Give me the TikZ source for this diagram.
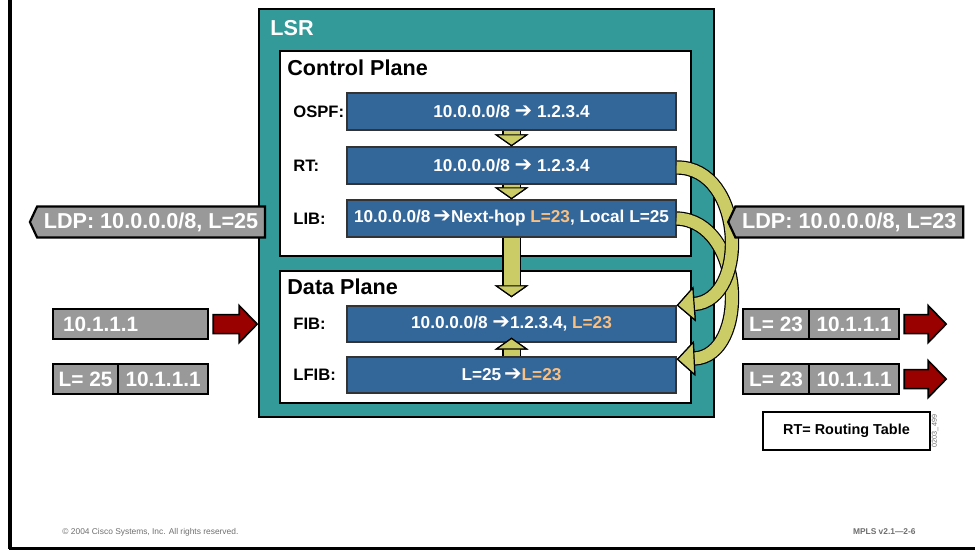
\documentclass[tikz,border=0pt]{standalone}
\usepackage{fontspec}
\setmainfont{Liberation Sans}
\newfontfamily\symfont{DejaVu Sans}
\usepackage{xcolor}
\definecolor{LSRCOLOR}{RGB}{51,153,153}
\definecolor{BARCOLOR}{RGB}{51,102,153}
\definecolor{LINKCOLOR}{RGB}{204,204,102}
\definecolor{PKTCOLOR}{RGB}{153,153,153}
\definecolor{FLOWCOLOR}{RGB}{153,0,0}
\definecolor{LABELCOLOR}{RGB}{250,192,130}
\definecolor{NOTECOLOR}{RGB}{110,110,110}
\newcommand{\fwdarrow}{{\symfont\fontsize{10.5}{10}\selectfont ➔}}
\newcommand{\labeltext}[1]{\textcolor{LABELCOLOR}{#1}}
\usetikzlibrary{positioning,shapes.symbols,arrows.meta,calc}
\tikzset{
  lsr-style/.style = {
    rectangle, draw=black, line width=1pt, fill=LSRCOLOR,
    anchor=north west, inner sep=0pt
  },
  plane-style/.style = {
    rectangle, draw=black, line width=1pt, fill=white,
    anchor=north west, inner sep=0pt,
    minimum width=205.5pt
  },
  title-style/.style = {
    anchor=base west, inner sep=0pt,
    font=\fontsize{10.8}{12}\selectfont\bfseries
  },
  bar-style/.style = {
    rectangle, draw=black!80, line width=0.7pt, fill=BARCOLOR,
    text=white, inner sep=0pt,
    minimum width=164.5pt, minimum height=18.5pt,
    font=\fontsize{8.6}{10}\selectfont\bfseries
  },
  table-style/.style = {
    anchor=west, inner sep=0pt,
    font=\fontsize{8.3}{10}\selectfont\bfseries
  },
  down-link/.style = {
    draw=LINKCOLOR, line width=8pt,
    preaction={draw=black, line width=9.2pt},
    -{Triangle[length=6pt, width=17pt, color=black, fill=LINKCOLOR, line width=0.6pt]}
  },
  curve-link/.style = {
    draw=LINKCOLOR, line width=6pt,
    preaction={draw=black, line width=7.2pt},
    -{Triangle[length=9pt, width=17.5pt, color=black, fill=LINKCOLOR, line width=0.6pt]}
  },
  ldp-style/.style = {
    signal, signal to=west, signal pointer angle=130,
    draw=black, line width=1.1pt, fill=PKTCOLOR, text=white,
    minimum width=117.5pt, minimum height=15.5pt, inner sep=1pt,
    font=\fontsize{10.8}{12}\selectfont\bfseries
  },
  pkt-style/.style = {
    rectangle, draw=black, line width=1.1pt, fill=PKTCOLOR, text=white,
    minimum height=15pt, inner sep=0pt,
    font=\fontsize{10.4}{12}\selectfont\bfseries
  },
  flow-style/.style = {
    draw=black, line width=0.8pt, fill=FLOWCOLOR, line join=miter
  },
  note-style/.style = {
    rectangle, draw=black, line width=1pt, fill=white,
    anchor=north west, minimum width=83.5pt, minimum height=19pt,
    font=\fontsize{7.2}{9}\selectfont\bfseries
  }
}

\begin{document}
\begin{tikzpicture}[x=0.5pt, y=-0.5pt]
    \useasboundingbox (0,0) rectangle (975,550);

    %%% slide frame
    \draw[line width=2pt] (10,0) -- (10,549);
    \draw[line width=1.2pt] (9,548.5) -- (975,548.5);

    %%% LSR
    \node[lsr-style, minimum width=227.5pt, minimum height=204pt] (lsr) at (258,8) {};
    \node[title-style, text=white] (lsrname) at (270,36) {LSR};

    %%% control plane
    \node[plane-style, minimum height=102.5pt] (cp) at (279,50) {};
    \node[title-style] (cpname) at (287,76) {Control Plane};
    \node[bar-style] (ospf) at (511.5,111.5) {10.0.0.0/8 \fwdarrow{} 1.2.3.4};
    \node[bar-style, below=7.8pt of ospf] (rt) {10.0.0.0/8 \fwdarrow{} 1.2.3.4};
    \node[bar-style, below=7.3pt of rt] (lib) {10.0.0.0/8\,\fwdarrow Next-hop \labeltext{L=23}, Local L=25};
    \node[table-style] (ospfname) at ([xshift=7pt]cp.west |- ospf) {OSPF:};
    \node[table-style] (rtname) at ([xshift=7pt]cp.west |- rt) {RT:};
    \node[table-style] (libname) at ([xshift=7pt]cp.west |- lib) {LIB:};

    %%% data plane
    \node[plane-style, minimum height=66pt] (dp) at (279,270) {};
    \node[title-style] (dpname) at (287,295) {Data Plane};
    \node[bar-style, minimum height=18pt] (fib) at (511.5,324) {10.0.0.0/8 \fwdarrow1.2.3.4, \labeltext{L=23}};
    \node[bar-style, minimum height=18pt, below=6.8pt of fib] (lfib) {L=25\,\fwdarrow\labeltext{L=23}};
    \node[table-style] (fibname) at ([xshift=7pt]dp.west |- fib) {FIB:};
    \node[table-style] (lfibname) at ([xshift=7pt]dp.west |- lfib) {LFIB:};

    %%% links
    \draw[down-link] (ospf) -- (rt);
    \draw[down-link] (rt) -- (lib);
    \draw[down-link] (lib) -- ([yshift=4pt]fib.north);
    \draw[down-link] (lfib) -- ([yshift=2.5pt]fib.south);
    \draw[curve-link] (lib.east) .. controls (745,221) and (749,356) .. ([yshift=-1.5pt]lfib.north east);
    \draw[curve-link] ([yshift=-1pt]rt.east) .. controls (745,167) and (749,300) .. ([yshift=0pt]fib.north east);

    %%% LDP messages
    \node[ldp-style, anchor=east] (ldpout) at (266,222) {LDP: 10.0.0.0/8, L=25};
    \node[ldp-style, anchor=west] (ldpin) at (727,222) {LDP: 10.0.0.0/8, L=23};

    %%% packets in
    \node[pkt-style, anchor=north west, minimum width=77.5pt, text width=67.5pt, align=left] (ipin) at (52,308) {10.1.1.1};
    \draw[flow-style] ($(ipin.east)+(4,-9.5)$) -- ++(26,0) -- ++(0,-9) -- ++(18,18.5)
      -- ++(-18,18.5) -- ++(0,-9) -- ++(-26,0) -- cycle;
    \node[pkt-style, anchor=north west, minimum width=32.5pt] (labin) at (52,363) {L= 25};
    \node[pkt-style, minimum width=45pt, right=-1.1pt of labin] (ipin2) {10.1.1.1};

    %%% packets out
    \node[pkt-style, anchor=north west, minimum width=33pt] (labout) at (742,308) {L= 23};
    \node[pkt-style, minimum width=45pt, right=-1.1pt of labout] (ipout) {10.1.1.1};
    \draw[flow-style] ($(ipout.east)+(4,-9.5)$) -- ++(24,0) -- ++(0,-9) -- ++(18,18.5)
      -- ++(-18,18.5) -- ++(0,-9) -- ++(-24,0) -- cycle;
    \node[pkt-style, anchor=north west, minimum width=33pt] (labout2) at (742,363) {L= 23};
    \node[pkt-style, minimum width=45pt, right=-1.1pt of labout2] (ipout2) {10.1.1.1};
    \draw[flow-style] ($(ipout2.east)+(4,-9.5)$) -- ++(24,0) -- ++(0,-9) -- ++(18,18.5)
      -- ++(-18,18.5) -- ++(0,-9) -- ++(-24,0) -- cycle;

    %%% legend and footer
    \node[note-style] (legend) at (762,411) {RT= Routing Table};
    \node[rotate=90, inner sep=0pt, text=NOTECOLOR, font=\fontsize{3.6}{4}\selectfont] (slideid) at (935,431) {0203\_499};
    \node[anchor=base west, inner sep=0pt, text=NOTECOLOR, font=\fontsize{4.2}{5}\selectfont] (copyright) at (62,535) {© 2004 Cisco Systems, Inc. All rights reserved.};
    \node[anchor=base east, inner sep=0pt, text=NOTECOLOR, font=\fontsize{4.2}{5}\selectfont\bfseries] (course) at (916,535) {MPLS v2.1—2-6};
\end{tikzpicture}
\end{document}
